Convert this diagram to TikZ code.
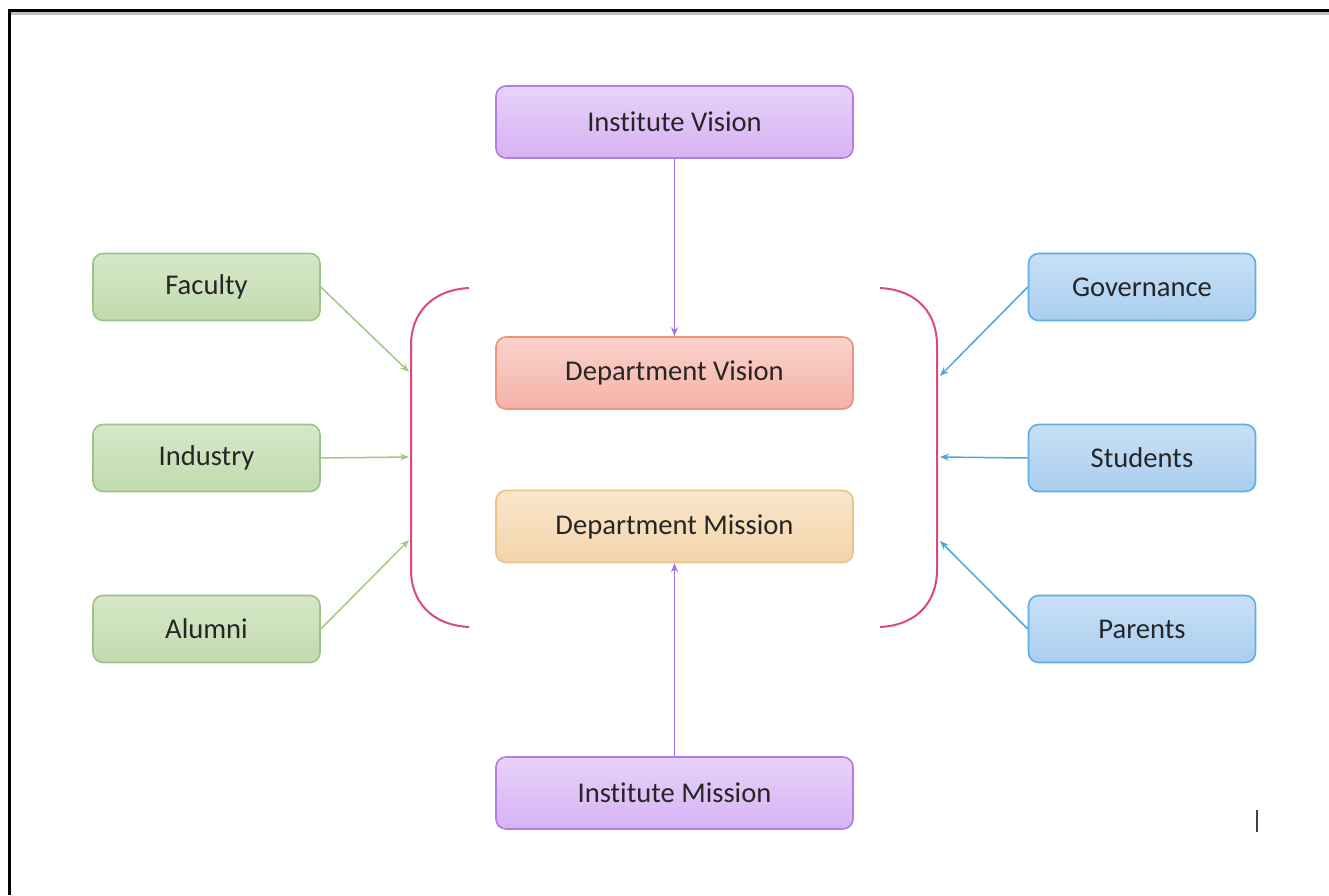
\documentclass[tikz,border=0pt]{standalone}
\usepackage{fontspec}
\setmainfont{Carlito}[Ligatures=NoCommon]
\usetikzlibrary{positioning,arrows.meta,calc}

\definecolor{visiontop}{HTML}{E8D2FA}
\definecolor{visionbot}{HTML}{D6B2F2}
\definecolor{visionline}{HTML}{B27EE0}
\definecolor{dvtop}{HTML}{FAD2CA}
\definecolor{dvbot}{HTML}{F4B2A8}
\definecolor{dvline}{HTML}{EE9282}
\definecolor{dmtop}{HTML}{FAE6CC}
\definecolor{dmbot}{HTML}{F2D4AA}
\definecolor{dmline}{HTML}{EAC28A}
\definecolor{greentop}{HTML}{D6E8C8}
\definecolor{greenbot}{HTML}{C2DAAE}
\definecolor{greenline}{HTML}{9CC486}
\definecolor{bluetop}{HTML}{C8E0F6}
\definecolor{bluebot}{HTML}{AACEF0}
\definecolor{blueline}{HTML}{5EAEE4}
\definecolor{bracketc}{HTML}{D94A7C}
\definecolor{arrgreen}{HTML}{9CCB84}
\definecolor{arrblue}{HTML}{4FA6DC}
\definecolor{arrpurple}{HTML}{A56EE6}

\begin{document}
\begin{tikzpicture}[x=0.5pt, y=-0.5pt,
        box/.style={draw, rounded corners=5pt, line width=0.8pt, minimum height=36pt, minimum width=178.5pt,
            inner sep=0pt, align=center, text=black!85, font=\fontsize{14.3}{16}\selectfont},
        side/.style={box, minimum height=33.5pt, minimum width=113.5pt},
        vision/.style={top color=visiontop, bottom color=visionbot, draw=visionline},
        dvision/.style={top color=dvtop, bottom color=dvbot, draw=dvline},
        dmission/.style={top color=dmtop, bottom color=dmbot, draw=dmline},
        stake/.style={top color=greentop, bottom color=greenbot, draw=greenline},
        body/.style={top color=bluetop, bottom color=bluebot, draw=blueline},
        bracket/.style={draw=bracketc, line width=1pt},
        link/.style={->, line width=0.75pt},
        >={Stealth[length=4.5pt, width=3.5pt]}
    ]
        \useasboundingbox (0,0) rectangle (1329,895);
        \draw[black!25, line width=1.5pt] (11,13.5) -- (1329,13.5);
        \draw[line width=1.75pt] (9.5,895) -- (9.5,10.5) -- (1329,10.5);

        % centre column
        \node [box, vision] (iv) at (674.5,122) {Institute Vision};
        \node [box, dvision] (dv) at (674.5,373) {Department Vision};
        \node [box, dmission] (dm) at (674.5,526.5) {Department Mission};
        \node [box, vision] (im) at (674.5,793) {Institute Mission};

        % left and right columns
        \node [side, stake] (fac) at (206.5,287) {Faculty};
        \node [side, stake, below=51.2pt of fac] (ind) {Industry};
        \node [side, stake, below=51.2pt of ind] (alu) {Alumni};
        \node [side, body] (gov) at (1142,287) {Governance};
        \node [side, body, below=51.2pt of gov] (stu) {Students};
        \node [side, body, below=51.2pt of stu] (par) {Parents};

        % brackets
        \draw [bracket] (469,288) .. controls (430,290) and (411,315) .. (411,345)
            -- (411,570) .. controls (411,600) and (430,625) .. (469,627);
        \draw [bracket] (880,288) .. controls (919,290) and (937,315) .. (937,345)
            -- (937,570) .. controls (937,600) and (919,625) .. (880,627);
        \coordinate (lfac) at (409,372);
        \coordinate (lind) at (409,457);
        \coordinate (lalu) at (409,540);
        \coordinate (rgov) at (940,376);
        \coordinate (rstu) at (940,457);
        \coordinate (rpar) at (940,541);

        \draw [link, arrgreen] (fac.east) -- (lfac);
        \draw [link, arrgreen] (ind.east) -- (lind);
        \draw [link, arrgreen] (alu.east) -- (lalu);
        \draw [link, arrblue] (gov.west) -- (rgov);
        \draw [link, arrblue] (stu.west) -- (rstu);
        \draw [link, arrblue] (par.west) -- (rpar);
        \draw [link, arrpurple] (iv.south) -- (dv.north);
        \draw [link, arrpurple] (im.north) -- (dm.south);

        \draw [black!75, line width=0.6pt] (1257,810) -- (1257,832);
    \end{tikzpicture}
\end{document}
